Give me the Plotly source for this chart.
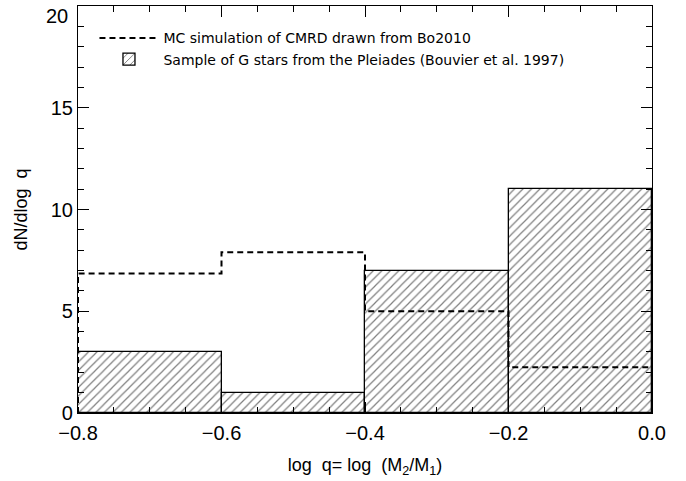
import plotly.graph_objects as go

# Data
bin_edges = [-0.8, -0.6, -0.4, -0.2, 0.0]
pleiades_counts = [3, 1, 7, 11]
mc_sim_counts = [6.85, 7.9, 5.0, 2.25]
y_ticks = [0, 5, 10, 15, 20]
x_ticks = [-0.8, -0.6, -0.4, -0.2, 0.0]

centers = [(a + b) / 2 for a, b in zip(bin_edges[:-1], bin_edges[1:])]
widths = [b - a for a, b in zip(bin_edges[:-1], bin_edges[1:])]

step_x = [bin_edges[0]] + bin_edges
step_y = [0] + mc_sim_counts + [mc_sim_counts[-1]]

FONT = "Liberation Sans"
LEG_FONT = "DejaVu Sans"

fig = go.Figure()
fig.add_trace(go.Scatter(
    x=step_x, y=step_y, mode="lines", line_shape="hv",
    line=dict(color="black", width=2, dash="6px,4px"),
    name="MC simulation of CMRD drawn from Bo2010",
))
fig.add_trace(go.Bar(
    x=centers, y=pleiades_counts, width=widths,
    marker=dict(color="white", line=dict(color="black", width=1.3),
                pattern=dict(shape="/", fgcolor="black", bgcolor="white",
                             size=6, solidity=0.2)),
    name="Sample of G stars from the Pleiades (Bouvier et al. 1997)",
))

axis_common = dict(
    showline=True, linecolor="black", linewidth=1.2, mirror="allticks",
    ticks="inside", ticklen=11, tickwidth=1, tickcolor="black",
    showgrid=False, zeroline=False, automargin=False,
    tickfont=dict(family=FONT, size=20, color="black"),
)

# top tick label is drawn slightly below its tick (as in the reference)
y_ticktext = [str(v) for v in y_ticks[:-1]] + [""]

fig.update_layout(
    width=686, height=481,
    margin=dict(l=78, r=34, t=6, b=68),
    paper_bgcolor="white", plot_bgcolor="white",
    bargap=0,
    showlegend=True,
    legend=dict(x=0.0287, y=0.96, xanchor="left", yanchor="top",
                bgcolor="rgba(0,0,0,0)", traceorder="normal",
                font=dict(family=LEG_FONT, size=14, color="black"),
                itemwidth=59),
    xaxis=dict(range=[bin_edges[0], bin_edges[-1]], tickvals=x_ticks,
               ticktext=[f"{v:.1f}".replace("-", "\u2212") for v in x_ticks],
               minor=dict(dtick=0.05, ticks="inside", ticklen=6, tickcolor="black"),
               title=dict(text="log  q= log  (M<sub>2</sub>/M<sub>1</sub>)",
                          font=dict(family=FONT, size=18, color="black"), standoff=15),
               ticklabelstandoff=2,
               **axis_common),
    yaxis=dict(range=[0, 20], tickvals=y_ticks, ticktext=y_ticktext,
               minor=dict(dtick=1, ticks="inside", ticklen=6, tickcolor="black"),
               title=dict(text="dN/dlog  q",
                          font=dict(family=FONT, size=18, color="black"), standoff=18),
               **axis_common),
    annotations=[dict(x=0, xref="paper", xanchor="right", xshift=-8,
                      y=y_ticks[-1], yref="y", yanchor="top", yshift=3,
                      text=str(y_ticks[-1]), showarrow=False,
                      font=dict(family=FONT, size=20, color="black"))],
)

fig.write_html("out.html", config={"displayModeBar": False},
               post_script="document.body.style.margin='0';document.body.style.overflow='hidden';")
